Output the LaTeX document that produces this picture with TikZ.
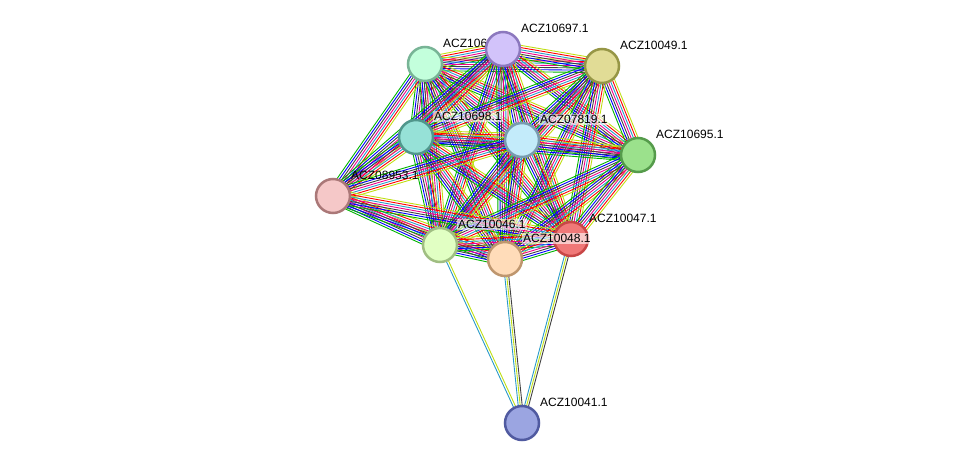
\documentclass[tikz,border=0pt]{standalone}
\usepackage{fontspec}
\setmainfont{Liberation Sans}
\usetikzlibrary{calc}
\definecolor{c96}{RGB}{195,255,220}\definecolor{d96}{RGB}{120,180,150}
\definecolor{c97}{RGB}{210,195,250}\definecolor{d97}{RGB}{140,120,190}
\definecolor{c49}{RGB}{225,220,150}\definecolor{d49}{RGB}{150,150,70}
\definecolor{c98}{RGB}{150,225,215}\definecolor{d98}{RGB}{80,150,140}
\definecolor{c19}{RGB}{195,235,250}\definecolor{d19}{RGB}{120,155,175}
\definecolor{c95}{RGB}{155,225,140}\definecolor{d95}{RGB}{85,155,75}
\definecolor{c53}{RGB}{245,200,200}\definecolor{d53}{RGB}{170,120,120}
\definecolor{c46}{RGB}{225,255,195}\definecolor{d46}{RGB}{160,190,130}
\definecolor{c48}{RGB}{255,220,185}\definecolor{d48}{RGB}{190,150,110}
\definecolor{c47}{RGB}{240,120,120}\definecolor{d47}{RGB}{200,70,70}
\definecolor{c41}{RGB}{155,165,225}\definecolor{d41}{RGB}{80,90,160}
\begin{document}
\begin{tikzpicture}[x=1pt,y=-1pt,
    prot/.style={circle,draw,line width=2.5pt,minimum size=34pt,inner sep=0pt},
    lab/.style={font=\fontsize{12}{14}\selectfont,anchor=south west,inner sep=1pt},
    ev/.style={line width=0.9pt}]
\useasboundingbox (0,0) rectangle (975,469);
% coordinates of the proteins
\coordinate (p96) at (425,64);
\coordinate (p97) at (503,49);
\coordinate (p49) at (602,66);
\coordinate (p98) at (416,137);
\coordinate (p19) at (522,140);
\coordinate (p95) at (638,155);
\coordinate (p53) at (333,196);
\coordinate (p46) at (440,245);
\coordinate (p48) at (505,259);
\coordinate (p47) at (571,239);
\coordinate (p41) at (522,423);
% evidence lines
\foreach \a/\b in {p96/p97,p96/p49,p96/p98,p96/p19,p96/p95,p96/p53,p96/p46,p96/p48,p96/p47,
    p97/p49,p97/p98,p97/p19,p97/p95,p97/p53,p97/p46,p97/p48,p97/p47,
    p49/p98,p49/p19,p49/p95,p49/p46,p49/p48,p49/p47,
    p98/p19,p98/p95,p98/p53,p98/p46,p98/p48,p98/p47,
    p19/p95,p19/p46,p19/p48,p19/p47,p19/p53,
    p95/p46,p95/p48,p95/p47,
    p53/p46,p53/p48,p53/p47,
    p46/p48,p46/p47,p48/p47}{
  \foreach \c/\o in {green!70!black/-6.6,blue/-4.4,black!75/-2.2,magenta/0.01,
      cyan!80!black/2.2,red/4.4,yellow!75!green/6.6}
    \draw[ev,\c] ($(\a)!\o pt!90:(\b)$) -- ($(\b)!\o pt!-90:(\a)$);
}
\foreach \c/\o in {cyan!80!black/-1.1,yellow!75!green/1.1}
  \draw[ev,\c] ($(p46)!\o pt!90:(p41)$) -- ($(p41)!\o pt!-90:(p46)$);
\foreach \a/\b in {p48/p41,p47/p41}{
  \foreach \c/\o in {cyan!80!black/-2,yellow!75!green/0.01,black!75/2}
    \draw[ev,\c] ($(\a)!\o pt!90:(\b)$) -- ($(\b)!\o pt!-90:(\a)$);
}
% labels
\node[lab] at (442,49) {ACZ10696.1};
\node[lab] at (520,34) {ACZ10697.1};
\node[lab] at (619,51) {ACZ10049.1};
\node[lab] at (655,140) {ACZ10695.1};
\node[lab] at (350,181) {ACZ08953.1};
\node[lab] at (588,224) {ACZ10047.1};
\node[lab] at (539,408) {ACZ10041.1};
% proteins
\node[prot,fill=c96,draw=d96] (n96) at (p96) {};
\node[prot,fill=c97,draw=d97] (n97) at (p97) {};
\node[prot,fill=c49,draw=d49] (n49) at (p49) {};
\node[prot,fill=c98,draw=d98] (n98) at (p98) {};
\node[prot,fill=c19,draw=d19] (n19) at (p19) {};
\node[prot,fill=c95,draw=d95] (n95) at (p95) {};
\node[prot,fill=c53,draw=d53] (n53) at (p53) {};
\node[prot,fill=c46,draw=d46] (n46) at (p46) {};
\node[prot,fill=c48,draw=d48] (n48) at (p48) {};
\node[prot,fill=c47,draw=d47] (n47) at (p47) {};
\node[prot,fill=c41,draw=d41] (n41) at (p41) {};
% labels printed on top of the nodes
\node[lab,fill=white,fill opacity=0.6,text opacity=1] at (433,122) {ACZ10698.1};
\node[lab,fill=white,fill opacity=0.6,text opacity=1] at (539,125) {ACZ07819.1};
\node[lab,fill=white,fill opacity=0.6,text opacity=1] at (457,230) {ACZ10046.1};
\node[lab,fill=white,fill opacity=0.6,text opacity=1] at (522,244) {ACZ10048.1};
\end{tikzpicture}
\end{document}
